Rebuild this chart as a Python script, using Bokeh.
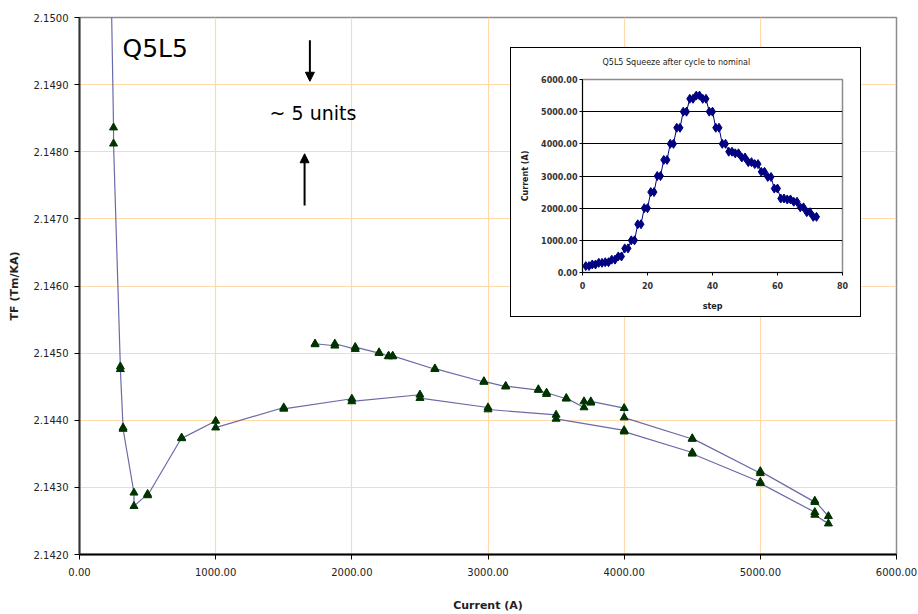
from bokeh.plotting import figure
from bokeh.models import (Range1d, FixedTicker, PrintfTickFormatter, Label, Arrow,
                          NormalHead, Div, Title)
from bokeh.layouts import column
from bokeh.embed import file_html
from bokeh.resources import INLINE

# ---------------- data ----------------
step = list(range(1, 73))
current_a = [200, 200, 250, 250, 300, 300, 320, 320, 400, 400, 500, 500,
             750, 750, 1000, 1000, 1500, 1500, 2000, 2000, 2500, 2500,
             3000, 3000, 3500, 3500, 4000, 4000, 4500, 4500, 5000, 5000,
             5400, 5400, 5500, 5500, 5400, 5400, 5000, 5000, 4500, 4500,
             4000, 4000, 3755, 3755, 3705, 3705, 3575, 3575, 3430, 3430,
             3370, 3370, 3130, 3130, 2970, 2970, 2610, 2610, 2300, 2300,
             2270, 2270, 2200, 2200, 2025, 2025, 1875, 1875, 1730, 1730]
tf = [2.1545, 2.1544, 2.14836, 2.14812, 2.14480, 2.14476, 2.14389, 2.14387,
      2.14292, 2.14272, 2.14290, 2.14288, 2.14374, 2.14373, 2.14399, 2.14389,
      2.14419, 2.14417, 2.14432, 2.14428, 2.14438, 2.14433, 2.14419, 2.14416,
      2.14408, 2.14402, 2.14385, 2.14383, 2.14352, 2.14350, 2.14308, 2.14306,
      2.14263, 2.14259, 2.14246, 2.14257, 2.14280, 2.14278, 2.14324, 2.14321,
      2.14373, 2.14372, 2.14404, 2.14418, 2.14428, 2.14426, 2.14428, 2.14419,
      2.14433, 2.14432, 2.14441, 2.14439, 2.14446, 2.14445, 2.14451, 2.14450,
      2.14458, 2.14457, 2.14477, 2.14476, 2.14496, 2.14495, 2.14496, 2.14495,
      2.14501, 2.14500, 2.14509, 2.14506, 2.14514, 2.14511, 2.14514, 2.14513]

x_ticks = [0, 1000, 2000, 3000, 4000, 5000, 6000]
y_ticks = [2.142, 2.143, 2.144, 2.145, 2.146, 2.147, 2.148, 2.149, 2.150]
inset_x_ticks = [0, 20, 40, 60, 80]
inset_y_ticks = [0, 1000, 2000, 3000, 4000, 5000, 6000]

FONT = "DejaVu Sans"
TXT = "#222222"

# ---------------- main chart ----------------
p = figure(width=918, height=614, output_backend="svg", toolbar_location=None,
           title=None, x_range=Range1d(0, 6000), y_range=Range1d(2.142, 2.150),
           min_border_left=79, min_border_right=22, min_border_top=17,
           min_border_bottom=60)
p.background_fill_color = "white"
p.border_fill_color = "white"
p.outline_line_color = "#8c8c8c"
p.outline_line_width = 1.5

p.xaxis.ticker = FixedTicker(ticks=x_ticks)
p.yaxis.ticker = FixedTicker(ticks=y_ticks)
p.xgrid.ticker = FixedTicker(ticks=x_ticks)
p.ygrid.ticker = FixedTicker(ticks=y_ticks)
p.xaxis.formatter = PrintfTickFormatter(format="%.2f")
p.yaxis.formatter = PrintfTickFormatter(format="%.4f")
p.grid.grid_line_color = "#ffd9aa"
p.grid.grid_line_width = 1.2

for ax in (p.xaxis, p.yaxis):
    ax.major_label_text_font = FONT
    ax.major_label_text_font_size = "10px"
    ax.major_label_text_color = TXT
    ax.axis_label_text_font = FONT
    ax.axis_label_text_font_size = "11px"
    ax.axis_label_text_font_style = "bold"
    ax.axis_label_text_color = TXT
    ax.minor_tick_line_color = None
    ax.major_tick_in = 0
    ax.major_tick_out = 5
    ax.major_tick_line_color = "black"
    ax.axis_line_width = 2

p.xaxis.axis_label = "Current (A)"
p.yaxis.axis_label = "TF (Tm/KA)"
p.xaxis.axis_line_color = "black"
p.yaxis.axis_line_color = "#333333"
p.xaxis.major_label_standoff = 8
p.xaxis.axis_label_standoff = 20
p.yaxis.major_label_standoff = 6
p.yaxis.axis_label_standoff = 10

p.line(current_a, tf, line_color="#6a6aa8", line_width=1.2)
p.scatter(current_a, tf, marker="triangle", size=8,
          fill_color="#003300", line_color="#003300")

p.add_layout(Label(x=316, y=2.14954, text="Q5L5", text_font=FONT,
                   text_font_size="25px", text_color="black",
                   text_baseline="middle", text_align="left"))
p.add_layout(Label(x=1396, y=2.14857, text="~ 5 units", text_font=FONT,
                   text_font_size="19px", text_color="black",
                   text_baseline="middle", text_align="left"))
p.add_layout(Arrow(end=NormalHead(size=9, fill_color="black", line_color="black"),
                   x_start=1692, y_start=2.14966, x_end=1692, y_end=2.14905,
                   line_width=2, line_color="black"))
p.add_layout(Arrow(end=NormalHead(size=9, fill_color="black", line_color="black"),
                   x_start=1653, y_start=2.14720, x_end=1653, y_end=2.14797,
                   line_width=2, line_color="black"))

# ---------------- inset chart ----------------
# white framed box that sits behind the inset
box = Div(text="", width=351, height=270, margin=0,
          styles={"position": "absolute", "left": "510px", "top": "47px",
                  "border": "1.5px solid black", "background-color": "white",
                  "box-sizing": "border-box"})

q = figure(frame_width=260, frame_height=193, output_backend="svg",
           toolbar_location=None,
           x_range=Range1d(0, 80), y_range=Range1d(0, 6000),
           min_border_left=73, min_border_right=18, min_border_top=32,
           min_border_bottom=45)
q.title.text = "Q5L5 Squeeze after cycle to nominal"
q.title.text_font = FONT
q.title.text_font_size = "8px"
q.title.text_font_style = "normal"
q.title.text_color = TXT
q.title.align = "left"
q.title.offset = 20
# small empty spacer between the title and the plot area
q.add_layout(Title(text=" ", text_font_size="5px", standoff=0), "above")
q.background_fill_color = "white"
q.border_fill_color = None
q.outline_line_color = "#8c8c8c"
q.outline_line_width = 1.5
q.xgrid.grid_line_color = None
q.ygrid.ticker = FixedTicker(ticks=inset_y_ticks)
q.ygrid.grid_line_color = "black"
q.ygrid.grid_line_width = 1
q.xaxis.ticker = FixedTicker(ticks=inset_x_ticks)
q.yaxis.ticker = FixedTicker(ticks=inset_y_ticks)
q.yaxis.formatter = PrintfTickFormatter(format="%.2f")
for ax in (q.xaxis, q.yaxis):
    ax.major_label_text_font = FONT
    ax.major_label_text_font_size = "8px"
    ax.major_label_text_font_style = "bold"
    ax.major_label_text_color = "#333333"
    ax.axis_label_text_font = FONT
    ax.axis_label_text_font_size = "8px"
    ax.axis_label_text_font_style = "bold"
    ax.axis_label_text_color = TXT
    ax.minor_tick_line_color = None
    ax.major_tick_in = 0
    ax.major_tick_out = 3
    ax.axis_line_color = "black"
    ax.major_tick_line_color = "black"
q.xaxis.axis_label = "step"
q.yaxis.axis_label = "Current (A)"
q.xaxis.major_label_standoff = 6
q.xaxis.axis_label_standoff = 10
q.yaxis.major_label_standoff = 2
q.yaxis.axis_label_standoff = 8

q.line(step, current_a, line_color="#000080", line_width=1)
q.scatter(step, current_a, marker="diamond", size=9,
          fill_color="#000080", line_color="#000080")

q.styles = {"position": "absolute", "left": "503px", "top": "47px"}

lay = column(p, box, q)
lay.styles = {"position": "relative"}

open("out.html", "w").write(file_html(lay, INLINE))
